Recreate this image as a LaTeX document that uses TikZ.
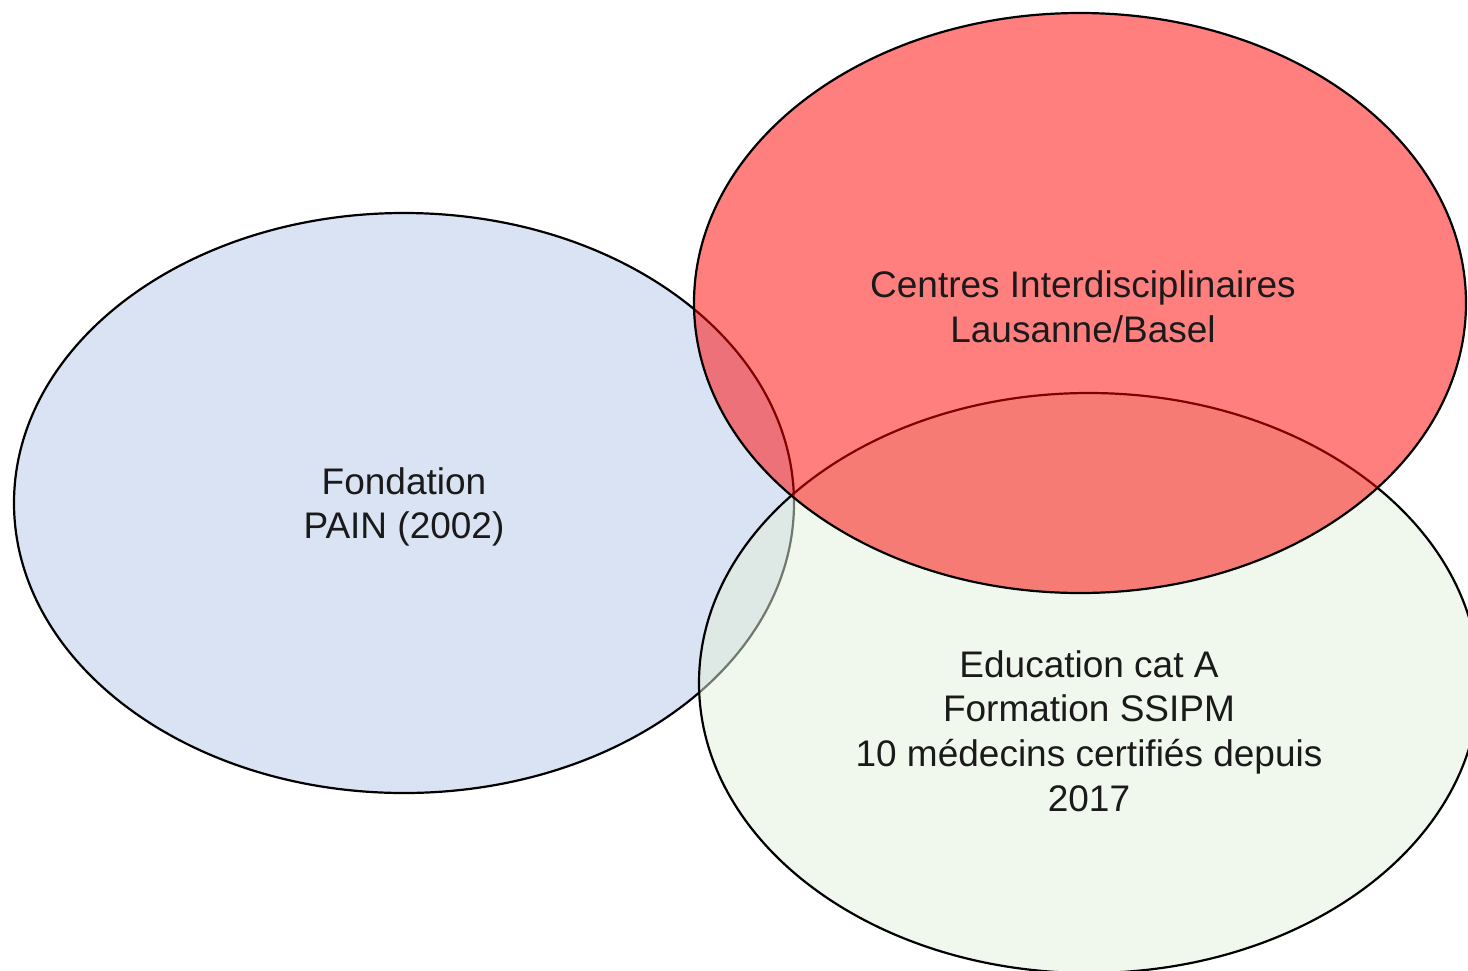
\documentclass[tikz,border=0pt]{standalone}
\usepackage{fontspec}
\setmainfont{Liberation Sans}
\usetikzlibrary{shapes.geometric}
\definecolor{blueset}{HTML}{DAE3F3}
\definecolor{greenset}{HTML}{E2F0D9}
\definecolor{redset}{HTML}{FF0000}
\definecolor{txt}{HTML}{1A1A1A}
\tikzset{
  setshape/.style={ellipse, draw=black, line width=2.2pt, inner sep=0pt,
    minimum width=#1, minimum height=580pt},
  settext/.style={align=center, text=txt, font=\fontsize{37}{44.8}\selectfont}
}
\begin{document}
\begin{tikzpicture}[x=1pt,y=-1pt]
\useasboundingbox (0,0) rectangle (1468,970);
\clip (0,0) rectangle (1468,970);
\node[setshape=780pt, fill=blueset] (pain) at (404,503) {};
\node[setshape=780pt, fill=greenset, fill opacity=0.5] (edu) at (1089,683) {};
\node[setshape=772pt, fill=redset, fill opacity=0.5] (centres) at (1080,303) {};
\node[settext] (paintxt) at (404,507) {Fondation\\PAIN (2002)};
\node[settext] (centrestxt) at (1083,307) {Centres Interdisciplinaires\\Lausanne/Basel};
\node[settext] (edutxt) at (1089,731) {Education cat A\\Formation SSIPM\\10 médecins certifiés depuis\\2017};
\end{tikzpicture}
\end{document}
